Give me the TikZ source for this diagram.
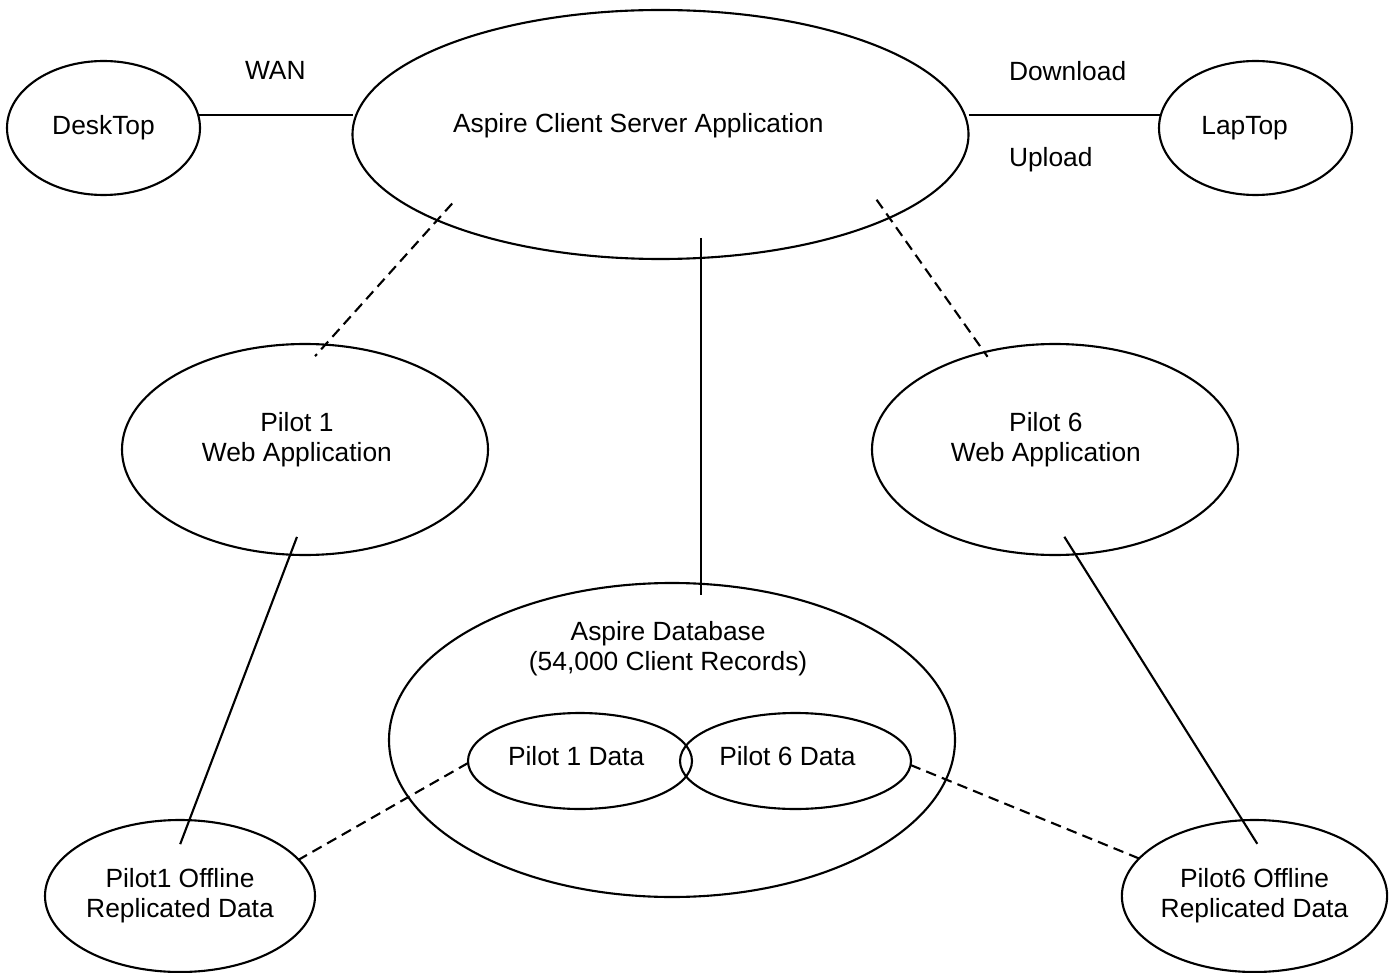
\documentclass[tikz,border=0pt]{standalone}
\usepackage{fontspec}
\setmainfont{Liberation Sans}
\usetikzlibrary{shapes.geometric}
\begin{document}
\begin{tikzpicture}[
                oval/.style = {draw, ellipse, line width = 0.6pt, inner sep = 0mm, outer sep = 0mm, align = center},
                txt/.style = {inner sep = 0mm, align = center},
                conn/.style = {draw, line width = 0.6pt},
                dconn/.style = {conn, dash pattern = on 3pt off 1.8pt},
                lbl/.style = {inner sep = 0mm},
                every node/.style = {font = \fontsize{7.5}{8.6}\selectfont},
            ]
            \useasboundingbox (0, 0) rectangle (13.94, 9.72);

            \node (desk) at (1.035, 8.44) [oval, minimum width = 1.93cm, minimum height = 1.34cm] {DeskTop};
            \node (asp) at (6.605, 8.375) [oval, minimum width = 6.16cm, minimum height = 2.49cm,
                label = {[txt, xshift = -6.3pt, yshift = 2.6pt]center:Aspire Client Server Application}] {};
            \node (lap) at (12.555, 8.44) [oval, minimum width = 1.93cm, minimum height = 1.34cm,
                label = {[txt, xshift = -3.1pt]center:LapTop}] {};

            \node (pweb1) at (3.05, 5.225) [oval, minimum width = 3.66cm, minimum height = 2.11cm,
                label = {[txt, xshift = -2.3pt, yshift = 2.8pt]center:Pilot 1\\Web Application}] {};
            \node (pweb6) at (10.55, 5.225) [oval, minimum width = 3.66cm, minimum height = 2.11cm,
                label = {[txt, xshift = -2.6pt, yshift = 2.8pt]center:Pilot 6\\Web Application}] {};

            \node (db) at (6.72, 2.32) [oval, minimum width = 5.66cm, minimum height = 3.14cm,
                label = {[txt, xshift = -1.1pt, yshift = 25.9pt]center:Aspire Database\\(54,000 Client Records)}] {};
            \node (pdata1) at (5.80, 2.11) [oval, minimum width = 2.24cm, minimum height = 0.96cm,
                label = {[txt, xshift = -1.1pt, yshift = 1.4pt]center:Pilot 1 Data}] {};
            \node (pdata6) at (7.955, 2.11) [oval, minimum width = 2.31cm, minimum height = 0.96cm,
                label = {[txt, xshift = -2.3pt, yshift = 1.4pt]center:Pilot 6 Data}] {};

            \node (pofl1) at (1.80, 0.76) [oval, minimum width = 2.70cm, minimum height = 1.52cm] {Pilot1 Offline\\Replicated Data};
            \node (pofl6) at (12.545, 0.76) [oval, minimum width = 2.65cm, minimum height = 1.52cm] {Pilot6 Offline\\Replicated Data};

            \path[conn] (desk.8) -- node[lbl, yshift = 12.5pt] {WAN} (desk.8 -| asp.west);
            \path[conn] (asp.east |- lap.172) -- node[lbl, pos = 0.205, anchor = west, yshift = 12.5pt] {Download}
                node[lbl, pos = 0.205, anchor = west, yshift = -12.8pt] {Upload} (lap.172);

            \path[dconn, shorten < = -6.4pt, shorten > = -4.4pt] (asp.-159.5) -- (pweb1.79.7);
            \path[dconn, shorten < = -6.3pt, shorten > = -1.6pt] (asp.-20.85) -- (pweb6.126.4);
            \path[conn, shorten < = -5.7pt, shorten > = -3.4pt] (asp.-72.7) -- (asp.-72.7 |- db.north);

            \path[conn, shorten < = -5.4pt, shorten > = -7.3pt] (pweb1.-98.5) -- (pofl1.83.2);
            \path[conn, shorten < = -5.9pt, shorten > = -7.9pt] (pweb6.-79.75) -- (pofl6.99.5);

            \path[dconn] (pdata1.181) -- (pofl1.17.1);
            \path[dconn] (pdata6.-2) -- (pofl6.162.5);
        \end{tikzpicture}
\end{document}
